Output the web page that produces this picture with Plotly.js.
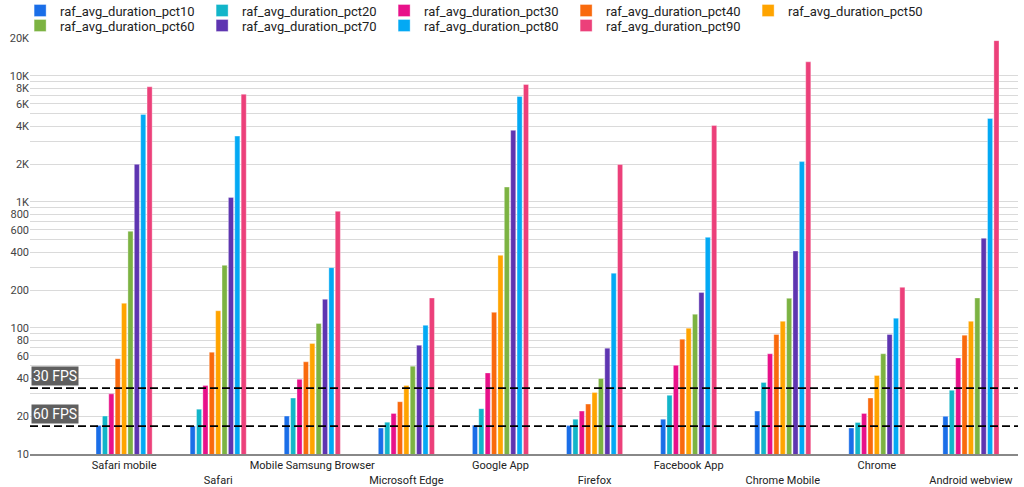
<!DOCTYPE html>
<html>
<head>
<meta charset="utf-8">
<script src="https://cdn.plot.ly/plotly-3.0.1.min.js"></script>
<style>
  html, body { margin: 0; padding: 0; background: #fff; }
  #chart { width: 1024px; height: 487px; }
</style>
</head>
<body>
<div id="chart"></div>
<script>
var browsers = ['Safari mobile', 'Safari', 'Mobile Samsung Browser', 'Microsoft Edge',
  'Google App', 'Firefox', 'Facebook App', 'Chrome Mobile', 'Chrome', 'Android webview'];

var pct10 = [16.8, 16.7, 20, 16.1, 16.9, 16.8, 18.9, 21.9, 16.1, 19.9];
var pct20 = [20, 22.7, 27.8, 17.9, 22.9, 18.9, 29.2, 37, 17.8, 32];
var pct30 = [30, 35, 39.1, 21, 44, 21.9, 50.5, 62.4, 21, 57.9];
var pct40 = [57, 64.3, 53.9, 26, 133, 24.9, 81.5, 88.8, 27.8, 87.7];
var pct50 = [157, 137, 75.4, 35, 377, 30.8, 99.6, 113, 42, 113];
var pct60 = [585, 314, 108.5, 49.8, 1313, 39.8, 128.6, 172, 62.4, 173];
var pct70 = [1990, 1087, 169, 73, 3700, 69.2, 191, 408, 88.8, 515];
var pct80 = [4950, 3330, 301, 105, 6870, 272, 524, 2090, 119.6, 4600];
var pct90 = [8200, 7160, 843, 173, 8550, 1980, 4045, 12940, 210, 19060];

var seriesNames = ['raf_avg_duration_pct10', 'raf_avg_duration_pct20', 'raf_avg_duration_pct30',
  'raf_avg_duration_pct40', 'raf_avg_duration_pct50', 'raf_avg_duration_pct60',
  'raf_avg_duration_pct70', 'raf_avg_duration_pct80', 'raf_avg_duration_pct90'];
var seriesValues = [pct10, pct20, pct30, pct40, pct50, pct60, pct70, pct80, pct90];
var colors = ['#1a6ee8', '#12b5c9', '#e8118a', '#f96a0d', '#ffa400',
  '#7cb342', '#5e35b1', '#03a9f4', '#ec407a'];

var fpsLines = [33.33, 16.67];
var fpsLabels = ['30 FPS', '60 FPS'];

// y ticks: grid at every 1..9 multiple, labels only on some
var tickVals = [];
var tickText = [];
var labelled = [1, 2, 4, 6, 8];
[10, 100, 1000, 10000].forEach(function (base) {
  for (var m = 1; m <= 9; m++) {
    if (base === 10000 && m > 2) break;
    var v = base * m;
    tickVals.push(v);
    var show = labelled.indexOf(m) >= 0;
    var txt = v >= 1000 ? (v / 1000) + 'K' : String(v);
    tickText.push(show ? txt : '');
  }
});

// staggered category labels
var xText = browsers.map(function (b, i) { return i % 2 ? '<br>' + b : b; });

// two legend rows: first five series on top row, the rest below
var data = seriesNames.map(function (name, k) {
  return {
    type: 'bar',
    name: name,
    x: browsers,
    y: seriesValues[k],
    legend: k < 5 ? 'legend' : 'legend2',
    marker: { color: colors[k], line: { color: 'rgba(255,255,255,0.35)', width: 1 } }
  };
});

var shapes = fpsLines.map(function (v) {
  return {
    type: 'line', xref: 'paper', x0: 0, x1: 1, yref: 'y', y0: v, y1: v,
    line: { color: '#000', width: 1.8, dash: '8px,4px' }
  };
});

var annotations = fpsLines.map(function (v, i) {
  return {
    xref: 'paper', x: 0.001, xanchor: 'left',
    yref: 'y', y: Math.log10(v), yanchor: 'bottom', yshift: 2,
    text: fpsLabels[i], showarrow: false,
    font: { family: 'Roboto, sans-serif', size: 14, color: '#fff' },
    bgcolor: '#5f5f5f', borderpad: 1
  };
});

var legendBase = {
  orientation: 'h',
  x: -0.01, xanchor: 'left',
  yanchor: 'middle',
  entrywidth: 137,
  font: { size: 13, color: '#222' },
  traceorder: 'normal',
  bgcolor: 'rgba(0,0,0,0)'
};

var layout = {
  width: 1024,
  height: 487,
  margin: { l: 30, r: 6, t: 38, b: 33, autoexpand: false },
  paper_bgcolor: '#fff',
  plot_bgcolor: '#fff',
  font: { family: 'Roboto, sans-serif', size: 11, color: '#222' },
  barmode: 'group',
  bargap: 0.39,
  bargroupgap: 0.2,
  showlegend: true,
  legend: Object.assign({}, legendBase, { y: 1.066 }),
  legend2: Object.assign({}, legendBase, { y: 1.03 }),
  xaxis: {
    type: 'category',
    range: [-1, 9.5],
    tickvals: browsers,
    ticktext: xText,
    tickangle: 0,
    showgrid: false,
    showline: true,
    linecolor: '#888',
    linewidth: 2,
    ticks: '',
    tickfont: { size: 11, color: '#222' }
  },
  yaxis: {
    type: 'log',
    range: [1, Math.log10(20000)],
    tickvals: tickVals,
    ticktext: tickText,
    showgrid: true,
    gridcolor: '#dadada',
    gridwidth: 1,
    zeroline: false,
    ticks: '',
    tickfont: { size: 11, color: '#444' }
  },
  shapes: shapes,
  annotations: annotations
};

Plotly.newPlot('chart', data, layout, { displayModeBar: false, staticPlot: true });
</script>
</body>
</html>
